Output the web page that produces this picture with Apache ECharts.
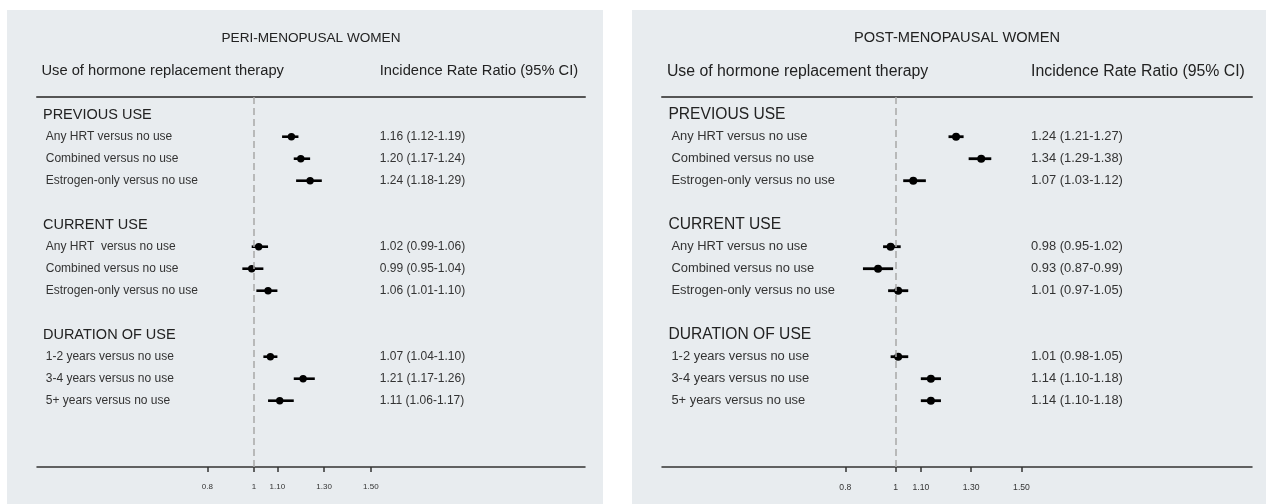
<!DOCTYPE html>
<html><head><meta charset="utf-8">
<script src="https://cdn.jsdelivr.net/npm/echarts@6/dist/echarts.min.js"></script>
<style>html,body{margin:0;padding:0;background:#fff}#c{width:1266px;height:504px}</style>
</head><body><div id="c"></div>
<script>
// ---- data ----
const groups = ['PREVIOUS USE', 'CURRENT USE', 'DURATION OF USE'];
const periLabels = [
  ['Any HRT versus no use', 'Combined versus no use', 'Estrogen-only versus no use'],
  ['Any HRT  versus no use', 'Combined versus no use', 'Estrogen-only versus no use'],
  ['1-2 years versus no use', '3-4 years versus no use', '5+ years versus no use']
];
const postLabels = [
  ['Any HRT versus no use', 'Combined versus no use', 'Estrogen-only versus no use'],
  ['Any HRT versus no use', 'Combined versus no use', 'Estrogen-only versus no use'],
  ['1-2 years versus no use', '3-4 years versus no use', '5+ years versus no use']
];
const periEst = [1.16, 1.20, 1.24, 1.02, 0.99, 1.06, 1.07, 1.21, 1.11];
const periLo  = [1.12, 1.17, 1.18, 0.99, 0.95, 1.01, 1.04, 1.17, 1.06];
const periHi  = [1.19, 1.24, 1.29, 1.06, 1.04, 1.10, 1.10, 1.26, 1.17];
const postEst = [1.24, 1.34, 1.07, 0.98, 0.93, 1.01, 1.01, 1.14, 1.14];
const postLo  = [1.21, 1.29, 1.03, 0.95, 0.87, 0.97, 0.98, 1.10, 1.10];
const postHi  = [1.27, 1.38, 1.12, 1.02, 0.99, 1.05, 1.05, 1.18, 1.18];
const tickValues = [0.8, 1, 1.1, 1.3, 1.5];
const tickLabels = ['0.8', '1', '1.10', '1.30', '1.50'];
const panelTitles = ['PERI-MENOPUSAL WOMEN', 'POST-MENOPAUSAL WOMEN'];
const colHeadLeft = 'Use of hormone replacement therapy';
const colHeadRight = 'Incidence Rate Ratio (95% CI)';

// ---- layout ----
const FONT = '"Liberation Sans", Arial, sans-serif';
const X_MIN = 0.0715, X_MAX = 2.416;
const Y_MIN = -1.805, Y_MAX = 15.014;
const HEAD_X = 0.097, ROW_X = 0.109, VAL_X = 1.538;
const panels = [
  { bg: [7, 10, 596, 494], grid: { left: 37, top: 97, width: 548, height: 370 }, s: 1,
    labels: periLabels, est: periEst, lo: periLo, hi: periHi },
  { bg: [632, 10, 634, 494], grid: { left: 662, top: 97, width: 590, height: 370 }, s: 1.077,
    labels: postLabels, est: postEst, lo: postLo, hi: postHi }
];
const fmt = v => { const i = tickValues.findIndex(t => Math.abs(t - v) < 1e-6); return i >= 0 ? tickLabels[i] : ''; };

const slotOf = (g, i) => g * 5 + i;   // row position index
const fmtCI = (e, l, h) => e.toFixed(2) + ' (' + l.toFixed(2) + '-' + h.toFixed(2) + ')';

const chart = echarts.init(document.getElementById('c'), null, { renderer: 'canvas' });
const grid = [], xAxis = [], yAxis = [], series = [], graphic = [];

panels.forEach((p, k) => {
  const s = p.s;
  graphic.push({ type: 'rect', z: -10, shape: { x: p.bg[0], y: p.bg[1], width: p.bg[2], height: p.bg[3] },
    style: { fill: '#e8ecef' } });
  const cx = p.grid.left + p.grid.width / 2;
  graphic.push({ type: 'text', x: cx, y: 38, style: { text: panelTitles[k], fill: '#222',
    font: (13.6 * s) + 'px ' + FONT, textAlign: 'center', textVerticalAlign: 'middle' } });
  grid.push({ left: p.grid.left, top: p.grid.top, width: p.grid.width, height: p.grid.height, containLabel: false });
  xAxis.push({ type: 'value', gridIndex: k, min: X_MIN, max: X_MAX, position: 'bottom',
    splitLine: { show: false },
    axisLine: { onZero: false, lineStyle: { color: '#333', width: 1.5 } },
    axisTick: { customValues: tickValues, length: 5, lineStyle: { color: '#333', width: 1.5 } },
    axisLabel: { customValues: tickValues, formatter: fmt, fontSize: 8 * s, color: '#333', margin: 16, fontFamily: FONT } });
  xAxis.push({ type: 'value', gridIndex: k, min: X_MIN, max: X_MAX, position: 'top',
    splitLine: { show: false }, axisTick: { show: false }, axisLabel: { show: false },
    axisLine: { onZero: false, lineStyle: { color: '#555', width: 2 } } });
  yAxis.push({ type: 'value', gridIndex: k, min: Y_MIN, max: Y_MAX, inverse: true, show: false });

  // column headers, placed on the data columns
  const headerY = -2.98;
  series.push({ type: 'custom', xAxisIndex: 2 * k, yAxisIndex: k, silent: true, clip: false,
    data: [[HEAD_X, headerY, 0], [VAL_X, headerY, 1]],
    renderItem: (params, api) => {
      const pt = api.coord([api.value(0), api.value(1)]);
      return { type: 'text', x: pt[0] - (params.dataIndex === 0 ? 1.5 : 0), y: pt[1],
        style: { text: params.dataIndex === 0 ? colHeadLeft : colHeadRight, fill: '#222',
          font: (14.7 * s) + 'px ' + FONT, textAlign: 'left', textVerticalAlign: 'middle' } };
    } });

  // group headers
  series.push({ type: 'custom', xAxisIndex: 2 * k, yAxisIndex: k, silent: true, clip: false,
    data: groups.map((g, gi) => [HEAD_X, slotOf(gi, -1)]),
    renderItem: (params, api) => {
      const pt = api.coord([api.value(0), api.value(1)]);
      return { type: 'text', x: pt[0], y: pt[1],
        style: { text: groups[params.dataIndex], fill: '#222',
          font: (14.5 * s) + 'px ' + FONT, textAlign: 'left', textVerticalAlign: 'middle' } };
    } });

  // rows
  const rows = [];
  const texts = [];
  p.labels.forEach((arr, gi) => arr.forEach((lab, i) => {
    const j = gi * 3 + i;
    rows.push([p.est[j], p.lo[j], p.hi[j], slotOf(gi, i)]);
    texts.push([lab, fmtCI(p.est[j], p.lo[j], p.hi[j])]);
  }));
  series.push({ type: 'custom', xAxisIndex: 2 * k, yAxisIndex: k, silent: true, clip: false,
    data: rows,
    renderItem: (params, api) => {
      const y = api.value(3);
      const pe = api.coord([api.value(0), y]);
      const pl = api.coord([api.value(1), y]);
      const ph = api.coord([api.value(2), y]);
      const pLab = api.coord([ROW_X, y]);
      const pVal = api.coord([VAL_X, y]);
      const t = texts[params.dataIndex];
      return { type: 'group', children: [
        { type: 'line', shape: { x1: pl[0], y1: pl[1], x2: ph[0], y2: ph[1] },
          style: { stroke: '#000', lineWidth: 2.6 * s } },
        { type: 'circle', shape: { cx: pe[0], cy: pe[1], r: 3.7 * s }, style: { fill: '#000' } },
        { type: 'text', x: pLab[0], y: pLab[1], style: { text: t[0], fill: '#333',
          font: (12 * s) + 'px ' + FONT, textAlign: 'left', textVerticalAlign: 'middle' } },
        { type: 'text', x: pVal[0], y: pVal[1], style: { text: t[1], fill: '#333',
          font: (12 * s) + 'px ' + FONT, textAlign: 'left', textVerticalAlign: 'middle' } }
      ] };
    },
    markLine: { silent: true, symbol: ['none', 'none'], label: { show: false },
      lineStyle: { color: '#a8a8a8', type: [7, 4], width: 1.5 },
      data: [{ xAxis: 1 }] }
  });
});

chart.setOption({ animation: false, backgroundColor: '#fff', grid, xAxis, yAxis, series, graphic });
</script></body></html>
